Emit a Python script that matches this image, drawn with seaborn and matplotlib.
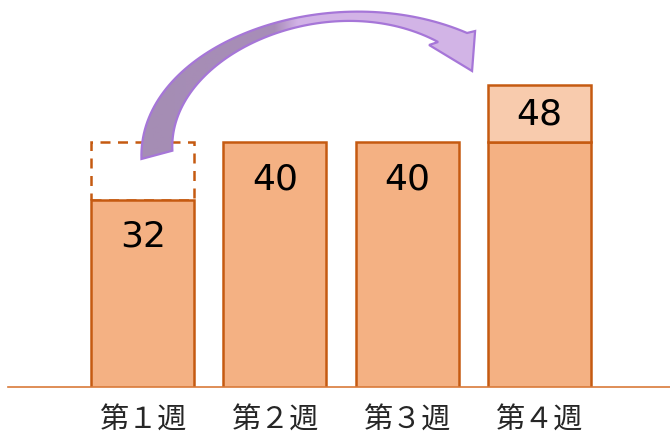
import numpy as np
import matplotlib
matplotlib.use("Agg")
import matplotlib.pyplot as plt
from matplotlib.patches import Polygon
from matplotlib.colors import LinearSegmentedColormap
import seaborn as sns

# Weekly values and the reference level they are compared with
weeks = ["第１週", "第２週", "第３週", "第４週"]
values = [32, 40, 40, 48]
target = 40

fill_main = "#F4B183"
fill_extra = "#F8CBAD"
edge_col = "#C55A11"

sns.set_theme(style="white")
plt.rcParams["font.family"] = ["Noto Sans CJK JP", "DejaVu Sans"]

fig = plt.figure(figsize=(6.7, 4.35), dpi=100)
ax = fig.add_axes([8 / 670, 47 / 435, 662 / 670, 388 / 435])

base = np.minimum(values, target)
extra = np.maximum(np.array(values) - target, 0)

# shortfall outline of the weeks below the target level
for i, v in enumerate(values):
    if v < target:
        ax.bar(i, target - v, bottom=v, width=0.78, fill=False,
               edgecolor=edge_col, linewidth=1.8, linestyle=(0, (4, 3)),
               zorder=1)

sns.barplot(x=weeks, y=base, color=fill_main, saturation=1, width=0.78,
            edgecolor=edge_col, linewidth=1.8, ax=ax, zorder=2)

# part above the target level
for i, e in enumerate(extra):
    if e > 0:
        ax.bar(i, e, bottom=target, width=0.78, color=fill_extra,
               edgecolor=edge_col, linewidth=1.8, zorder=2)

# value labels
for i, v in enumerate(values):
    y = (target + v) / 2 if v > target else v - 5
    ax.text(i, y, str(v), ha="center", va="center", fontsize=26,
            family="DejaVu Sans", color="black", zorder=5)


def bezier(p0, p1, p2, p3, n=80):
    """Points on a cubic Bezier curve."""
    t = np.linspace(0, 1, n)[:, None]
    p0, p1, p2, p3 = map(np.asarray, (p0, p1, p2, p3))
    return ((1 - t) ** 3 * p0 + 3 * (1 - t) ** 2 * t * p1 +
            3 * (1 - t) * t ** 2 * p2 + t ** 3 * p3)


# curved arrow from the first week's gap to the last week's surplus
outer = bezier((-0.010, 37.67), (-0.038, 53.64), (1.412, 63.36), (2.454, 55.17))
inner = bezier((0.224, 38.82), (0.188, 52.25), (1.412, 61.97), (2.235, 53.92))
head = np.array([(2.515, 55.44), (2.492, 49.89), (2.167, 53.5)])
outline = np.vstack([outer, head, inner[::-1]])

arrow = Polygon(outline, closed=True, facecolor="none",
                edgecolor="#A676D8", linewidth=1.6, zorder=4)
ax.add_patch(arrow)

cmap = LinearSegmentedColormap.from_list(
    "arrow", [(0.0, "#A58DB4"), (0.40, "#A88DB8"),
              (0.47, "#D2B3E6"), (1.0, "#D3B5E7")])
grad = np.linspace(0, 1, 256).reshape(1, -1)
x0, x1 = outline[:, 0].min(), outline[:, 0].max()
y0, y1 = outline[:, 1].min(), outline[:, 1].max()
img = ax.imshow(grad, extent=[x0, x1, y0, y1], cmap=cmap, aspect="auto",
                origin="lower", zorder=3, interpolation="bilinear")
clip = Polygon(outline, closed=True, facecolor="none", edgecolor="none",
               transform=ax.transData)
ax.add_patch(clip)
img.set_clip_path(clip)

ax.set_xlim(-1.02, 3.99)
ax.set_ylim(6, 6 + 388 / 7.2)
ax.set_xlabel("")
ax.set_ylabel("")
ax.set_yticks([])
ax.tick_params(axis="x", length=0, pad=13, labelsize=21, labelcolor="#262626")
for s in ["left", "right", "top"]:
    ax.spines[s].set_visible(False)
ax.spines["bottom"].set_color("#D97A3A")
ax.spines["bottom"].set_linewidth(1.2)
ax.set_facecolor("white")
fig.patch.set_facecolor("white")

fig.savefig("out.png", dpi=100, facecolor="white")
